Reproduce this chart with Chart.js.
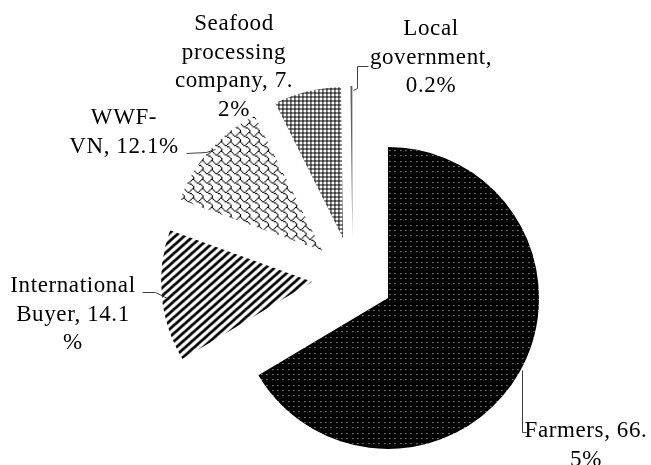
<!DOCTYPE html>
<html>
<head>
<meta charset="utf-8">
<script src="https://cdn.jsdelivr.net/npm/chart.js@4.4.0/dist/chart.umd.min.js"></script>
<style>
  html, body { margin: 0; padding: 0; background: #fff; }
  canvas { display: block; }
</style>
</head>
<body>
<canvas id="pie" width="651" height="465"></canvas>
<script>
// Share of each stakeholder (%)
const categories = ['Farmers', 'International Buyer', 'WWF-VN', 'Seafood processing company', 'Local government'];
const shares = [66.5, 14.1, 12.1, 7.2, 0.2];

// Where each label sits, where its text wraps, and its leader line
const labelLayout = [
  { x: 586, y: 437, cuts: [12], leader: [[526, 432], [522, 432], [522, 370]] },
  { x: 73, y: 292, cuts: [13, 25], leader: [[142, 292], [155, 292], [167, 298]] },
  { x: 124, y: 124, cuts: [4], leader: [[186, 153], [206, 152], [215, 149]] },
  { x: 234, y: 30, cuts: [7, 18, 30], leader: null },
  { x: 431, y: 35, cuts: [5, 17], leader: [[368, 66], [357, 66], [357, 88], [353, 90]] }
];
const lineHeight = 28.6;
const explode = 40.7;

function tile(w, h, paint) {
  const c = document.createElement('canvas');
  c.width = w;
  c.height = h;
  const g = c.getContext('2d');
  paint(g);
  return c;
}

function makePatterns(ctx) {
  // black with small light dots
  const dots = tile(16, 16, g => {
    g.fillStyle = '#000';
    g.fillRect(0, 0, 16, 16);
    g.fillStyle = '#d8d8d8';
    [0, 5, 11].forEach(x => [0, 5, 11].forEach(y => g.fillRect(x + 2, y + 2, 1, 1)));
  });
  // wide upward diagonal, lines run past the tile so the edges join up
  const dw = 9, dh = 8;
  const diag = tile(dw, dh, g => {
    g.fillStyle = '#fff';
    g.fillRect(0, 0, dw, dh);
    g.strokeStyle = '#000';
    g.lineWidth = 2.8;
    [-dw, 0, dw].forEach(dx => {
      g.beginPath();
      g.moveTo(dx - dw, 2 * dh);
      g.lineTo(dx + 2 * dw, -dh);
      g.stroke();
    });
  });
  // shingle
  const shingleBits = [0x03, 0x84, 0x48, 0x30, 0x0c, 0x02, 0x01, 0x01];
  const shingle = tile(8, 8, g => {
    g.fillStyle = '#fff';
    g.fillRect(0, 0, 8, 8);
    g.fillStyle = '#000';
    shingleBits.forEach((row, y) => {
      for (let x = 0; x < 8; x++) {
        if (row & (0x80 >> x)) g.fillRect(x, y, 1, 1);
      }
    });
  });
  // small grid
  const grid = tile(4, 4, g => {
    g.fillStyle = '#fff';
    g.fillRect(0, 0, 4, 4);
    g.fillStyle = '#000';
    g.fillRect(0, 0, 4, 1);
    g.fillRect(0, 0, 1, 4);
  });

  const shinglePattern = ctx.createPattern(shingle, 'repeat');
  shinglePattern.setTransform(new DOMMatrix().scale(1.17));
  return [
    ctx.createPattern(dots, 'repeat'),
    ctx.createPattern(diag, 'repeat'),
    shinglePattern,
    ctx.createPattern(grid, 'repeat'),
    '#606060'
  ];
}

function splitAt(text, cuts) {
  const parts = [];
  let start = 0;
  cuts.concat(text.length).forEach(end => {
    parts.push(text.slice(start, end).trim());
    start = end;
  });
  return parts;
}

// pull every slice away from the centre along its mid angle
const explodePlugin = {
  id: 'explodeSlices',
  afterDatasetUpdate(chart, args) {
    args.meta.data.forEach(arc => {
      if (arc.$exploded) return;
      const draw = arc.draw.bind(arc);
      arc.draw = (ctx, area) => {
        const mid = (arc.startAngle + arc.endAngle) / 2;
        ctx.save();
        ctx.translate(Math.cos(mid) * explode, Math.sin(mid) * explode);
        draw(ctx, area);
        ctx.restore();
      };
      arc.$exploded = true;
    });
  }
};

const labelPlugin = {
  id: 'sliceLabels',
  afterDraw(chart) {
    const ctx = chart.ctx;
    ctx.save();
    ctx.strokeStyle = '#404040';
    ctx.lineWidth = 1;
    labelLayout.forEach(lay => {
      if (!lay.leader) return;
      ctx.beginPath();
      lay.leader.forEach(([x, y], k) => {
        if (k === 0) ctx.moveTo(x + 0.5, y + 0.5);
        else ctx.lineTo(x + 0.5, y + 0.5);
      });
      ctx.stroke();
    });

    ctx.font = '23px "Liberation Serif", "Times New Roman", serif';
    ctx.letterSpacing = '0.6px';
    ctx.fillStyle = '#000';
    ctx.textAlign = 'center';
    ctx.textBaseline = 'alphabetic';
    categories.forEach((cat, i) => {
      const lay = labelLayout[i];
      const text = `${cat}, ${shares[i].toFixed(1)}%`;
      splitAt(text, lay.cuts).forEach((line, k) => {
        ctx.fillText(line, lay.x, lay.y + k * lineHeight);
      });
    });
    ctx.restore();
  }
};

const canvas = document.getElementById('pie');
const patterns = makePatterns(canvas.getContext('2d'));

new Chart(canvas, {
  type: 'pie',
  data: {
    labels: categories,
    datasets: [{
      data: shares,
      backgroundColor: patterns,
      borderWidth: 0,
      clip: false
    }]
  },
  options: {
    responsive: false,
    devicePixelRatio: 1,
    animation: false,
    radius: 151,
    layout: {
      padding: { left: 60, right: 5.8, top: 100, bottom: 9.4 }
    },
    plugins: {
      legend: { display: false },
      tooltip: { enabled: false }
    }
  },
  plugins: [explodePlugin, labelPlugin]
});
</script>
</body>
</html>
